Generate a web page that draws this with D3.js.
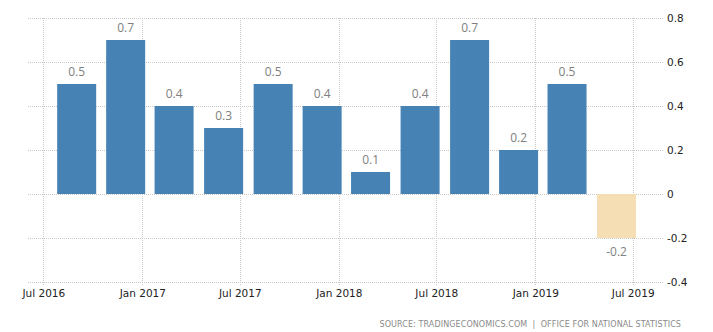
<!DOCTYPE html>
<html>
<head>
<meta charset="utf-8">
<script src="https://cdn.jsdelivr.net/npm/d3@7"></script>
<style>
  html, body { margin: 0; padding: 0; background: #fff; }
  svg { display: block; }
</style>
</head>
<body>
<svg id="chart" width="713" height="332"></svg>
<script>
// Quarterly GDP growth (%), each quarter keyed by the month it ends in
const quarters = ["2016-09", "2016-12", "2017-03", "2017-06", "2017-09", "2017-12",
                  "2018-03", "2018-06", "2018-09", "2018-12", "2019-03", "2019-06"];
const growth = [0.5, 0.7, 0.4, 0.3, 0.5, 0.4, 0.1, 0.4, 0.7, 0.2, 0.5, -0.2];
const yTicks = [-0.4, -0.2, 0, 0.2, 0.4, 0.6, 0.8];
const xTicks = ["2016-07", "2017-01", "2017-07", "2018-01", "2018-07", "2019-01", "2019-07"];
const sourceText = "SOURCE: TRADINGECONOMICS.COM  |  OFFICE FOR NATIONAL STATISTICS";

const parseMonth = d3.timeParse("%Y-%m");
const data = quarters.map((q, i) => ({ date: parseMonth(q), value: growth[i] }));

// plain ASCII hyphen for negatives
const fmt = d => d === 0 ? "0" : d3.format(".1f")(d).replace("\u2212", "-");

const svg = d3.select("#chart");
const plotLeft = 28, plotRight = 663;

const x = d3.scaleTime()
  .domain([parseMonth("2016-07"), parseMonth("2019-07")])
  .range([43.3, 632.7]);
const y = d3.scaleLinear().domain([-0.4, 0.8]).range([282, 18]);

const gridColor = "#c9c9c9";

// horizontal grid
svg.append("g").selectAll("line").data(yTicks).join("line")
  .attr("x1", plotLeft).attr("x2", plotRight)
  .attr("y1", d => Math.round(y(d)) + 0.5).attr("y2", d => Math.round(y(d)) + 0.5)
  .attr("stroke", gridColor).attr("stroke-dasharray", "1,1");

// vertical grid
svg.append("g").selectAll("line").data(xTicks.map(parseMonth)).join("line")
  .attr("x1", d => Math.round(x(d)) + 0.5).attr("x2", d => Math.round(x(d)) + 0.5)
  .attr("y1", y(0.8)).attr("y2", y(-0.4) + 4)
  .attr("stroke", gridColor).attr("stroke-dasharray", "1,1");

// bars
const barW = 39;
svg.append("g").selectAll("rect").data(data).join("rect")
  .attr("x", d => x(d.date) - barW / 2)
  .attr("width", barW)
  .attr("y", d => y(Math.max(0, d.value)))
  .attr("height", d => Math.abs(y(d.value) - y(0)))
  .attr("fill", d => d.value >= 0 ? "#4682b4" : "#f5deb3");

// value labels
svg.append("g").selectAll("text").data(data).join("text")
  .attr("x", d => x(d.date))
  .attr("y", d => d.value >= 0 ? y(d.value) - 8 : y(d.value) + 18)
  .attr("text-anchor", "middle")
  .attr("font-family", "'Open Sans', sans-serif")
  .attr("font-size", 12)
  .attr("fill", "#808080")
  .text(d => fmt(d.value));

// y axis labels on the right
const yAxis = d3.axisRight(y).tickValues(yTicks)
  .tickFormat(fmt)
  .tickSize(0).tickPadding(0);
const gy = svg.append("g").attr("transform", `translate(667,0)`).call(yAxis);
gy.select(".domain").remove();
gy.selectAll("text")
  .attr("font-family", "'DejaVu Sans', sans-serif")
  .attr("font-size", 10.5)
  .attr("fill", "#222");

// x axis labels
const xAxis = d3.axisBottom(x).tickValues(xTicks.map(parseMonth))
  .tickFormat(d3.timeFormat("%b %Y")).tickSize(0).tickPadding(0);
const gx = svg.append("g").attr("transform", `translate(0,290)`).call(xAxis);
gx.select(".domain").remove();
gx.selectAll("text")
  .attr("font-family", "'DejaVu Sans', sans-serif")
  .attr("font-size", 10.5)
  .attr("fill", "#222");

// source line
svg.append("text")
  .attr("x", 681).attr("y", 327)
  .attr("text-anchor", "end")
  .attr("font-family", "'DejaVu Sans', sans-serif")
  .attr("font-size", 8)
  .attr("letter-spacing", 0.1)
  .attr("fill", "#8a8a8a")
  .style("white-space", "pre")
  .text(sourceText);
</script>
</body>
</html>
